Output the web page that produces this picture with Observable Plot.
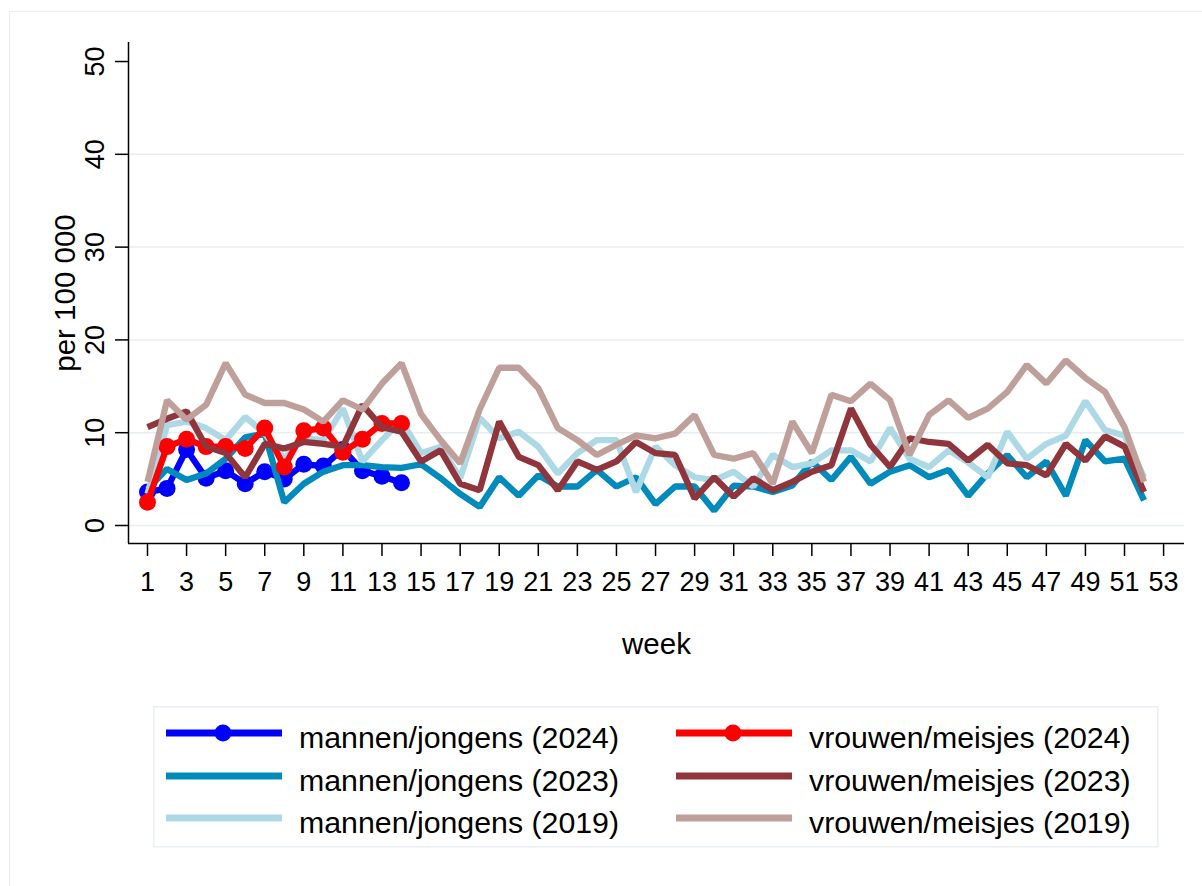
<!DOCTYPE html>
<html>
<head>
<meta charset="utf-8">
<script src="https://cdn.jsdelivr.net/npm/d3@7"></script>
<script src="https://cdn.jsdelivr.net/npm/@observablehq/plot@0.6"></script>
<style>
  html, body { margin: 0; padding: 0; background: #fff; }
  #wrap { position: relative; width: 1202px; height: 886px; overflow: hidden; background: #fff;
          font-family: "Liberation Sans", Arial, sans-serif; }
  #outer { position: absolute; left: 9px; top: 11px; width: 1400px; height: 1100px;
           border: 1.5px solid #E8EEF3; box-sizing: border-box; }
  #chart { position: absolute; left: 0; top: 0; }
  #legend { position: absolute; left: 153px; top: 706px; }
</style>
</head>
<body>
<div id="wrap">
  <div id="outer"></div>
  <div id="chart"></div>
  <svg id="legend" width="1006" height="142"></svg>
</div>
<script>
// ---- data ----
const weeks52 = d3.range(1, 53);
const weeks14 = d3.range(1, 15);
const xTicks = d3.range(1, 54, 2);
const yTicks = [0, 10, 20, 30, 40, 50];
const gridTicks = [0, 10, 20, 30, 40];

const men2024 = [3.6, 4.0, 8.2, 5.1, 5.9, 4.5, 5.8, 5.0, 6.6, 6.4, 8.2, 5.9, 5.3, 4.6];
const women2024 = [2.5, 8.5, 9.3, 8.5, 8.5, 8.3, 10.5, 6.3, 10.2, 10.5, 7.9, 9.3, 11.0, 11.0];

const men2023 = [3.9, 6.1, 4.9, 5.6, 7.2, 9.5, 9.9, 2.5, 4.5, 5.8, 6.5, 6.5, 6.3, 6.2,
  6.6, 5.1, 3.4, 2.0, 5.2, 3.2, 5.4, 4.2, 4.2, 6.0, 4.2, 5.2, 2.3, 4.2, 4.2, 1.6,
  4.3, 4.2, 3.6, 4.3, 6.9, 4.9, 7.4, 4.5, 5.8, 6.5, 5.2, 6.0, 3.2, 5.6, 7.6, 5.2,
  6.9, 3.2, 9.2, 6.9, 7.2, 2.7];
const women2023 = [10.6, 11.5, 12.3, 8.5, 7.8, 5.2, 8.8, 8.3, 9.0, 8.8, 8.5, 13.0, 10.6, 10.1,
  6.9, 8.1, 4.5, 3.8, 11.2, 7.4, 6.5, 3.8, 6.9, 6.0, 6.9, 9.0, 7.8, 7.6, 2.9, 5.2,
  3.1, 5.1, 3.8, 4.7, 5.8, 6.5, 12.6, 8.7, 6.3, 9.4, 9.0, 8.8, 7.0, 8.7, 6.7, 6.5,
  5.4, 8.8, 7.0, 9.6, 8.5, 3.6];
const men2019 = [3.4, 10.8, 11.2, 10.5, 9.2, 11.7, 9.9, 7.2, 9.4, 9.2, 12.6, 6.9, 9.2, 11.3,
  7.8, 8.5, 5.1, 11.6, 9.4, 10.1, 8.5, 5.6, 7.8, 9.2, 9.2, 3.6, 8.5, 6.5, 5.2, 4.9,
  5.8, 4.2, 7.6, 6.3, 6.7, 8.1, 8.1, 6.9, 10.5, 7.2, 6.3, 8.1, 6.8, 5.2, 10.1, 7.2,
  8.8, 9.7, 13.4, 10.3, 9.7, 5.2];
const women2019 = [4.7, 13.5, 11.4, 13.0, 17.5, 14.1, 13.2, 13.2, 12.5, 11.2, 13.5, 12.5, 15.3, 17.5,
  12.0, 9.2, 6.7, 12.5, 17.0, 17.0, 14.8, 10.5, 9.2, 7.6, 8.7, 9.7, 9.4, 9.9, 11.9, 7.6,
  7.2, 7.8, 4.5, 11.2, 7.8, 14.1, 13.4, 15.3, 13.5, 7.6, 11.9, 13.5, 11.6, 12.6, 14.4, 17.3,
  15.3, 17.8, 15.9, 14.4, 10.6, 4.7];

const seriesNames = ["mannen/jongens (2024)", "vrouwen/meisjes (2024)",
  "mannen/jongens (2023)", "vrouwen/meisjes (2023)",
  "mannen/jongens (2019)", "vrouwen/meisjes (2019)"];
const seriesColors = ["#0000FF", "#FF0000", "#008BBC", "#90353B", "#ADD8E6", "#BF9F99"];
const seriesValues = [men2024, women2024, men2023, women2023, men2019, women2019];
const seriesWeeks = [weeks14, weeks14, weeks52, weeks52, weeks52, weeks52];
const seriesDots = [true, true, false, false, false, false];
// drawing order (Stata plot order)
const drawOrder = [0, 2, 4, 1, 3, 5];

// ---- build tidy table ----
const rows = [];
seriesValues.forEach((vals, i) => {
  vals.forEach((v, j) => rows.push({series: seriesNames[i], idx: i, week: seriesWeeks[i][j], value: v}));
});

const W = 1202, H = 680, ML = 128, MR = 18, MT = 42, MB = 137;
const xDomain = [0.028, 54.07];
const yDomain = [-1.94, 52.05];
const pxPerX = (W - ML - MR) / (xDomain[1] - xDomain[0]);
const xAtPx = px => xDomain[0] + (px - ML) / pxPerX;
const font = "Liberation Sans, Arial, sans-serif";

const marks = [
  Plot.ruleY(gridTicks, {stroke: "#E6EEF2", strokeWidth: 1.5})
];
for (const i of drawOrder) {
  const data = rows.filter(d => d.idx === i);
  marks.push(Plot.line(data, {x: "week", y: "value", stroke: seriesColors[i], strokeWidth: 6.3,
    strokeLinejoin: "miter", strokeLinecap: "butt"}));
  if (seriesDots[i]) {
    marks.push(Plot.dot(data, {x: "week", y: "value", r: 8.5, fill: seriesColors[i], stroke: "none"}));
  }
}
marks.push(
  Plot.ruleX([xDomain[0]], {stroke: "#000", strokeWidth: 1.5}),
  Plot.ruleY([yDomain[0]], {stroke: "#000", strokeWidth: 1.5}),
  Plot.axisX({ticks: xTicks, tickSize: 13, tickPadding: 15, fontSize: 27, label: null,
    strokeWidth: 1.5, fill: "#000", stroke: "#000"}),
  Plot.axisY({ticks: yTicks, tickSize: 13, tickFormat: () => "", label: null,
    strokeWidth: 1.5, stroke: "#000"}),
  Plot.text(yTicks, {y: d => d, x: () => xAtPx(103), text: d => String(d), rotate: -90,
    lineAnchor: "bottom", textAnchor: "middle", fontSize: 27, fill: "#000"}),
  Plot.text(["per 100 000"], {x: () => xAtPx(74), y: () => (yDomain[0] + yDomain[1]) / 2,
    rotate: -90, lineAnchor: "bottom", textAnchor: "middle", fontSize: 29.5, fill: "#000"}),
  Plot.text(["week"], {frameAnchor: "bottom", dy: 110, lineAnchor: "bottom",
    textAnchor: "middle", fontSize: 29.5, fill: "#000"})
);

const chart = Plot.plot({
  width: W,
  height: H,
  marginLeft: ML,
  marginRight: MR,
  marginTop: MT,
  marginBottom: MB,
  x: {type: "linear", domain: xDomain},
  y: {type: "linear", domain: yDomain},
  style: {fontFamily: font, background: "transparent", color: "#000", overflow: "visible"},
  marks
});
document.getElementById("chart").appendChild(chart);

// ---- legend ----
const leg = d3.select("#legend");
leg.append("rect").attr("x", 0.75).attr("y", 0.75).attr("width", 1004).attr("height", 140)
  .attr("fill", "#fff").attr("stroke", "#E8EEF3").attr("stroke-width", 1.5);
const rowY = [27, 70, 112];
const colX = [13, 523];
seriesNames.forEach((name, i) => {
  const c = i % 2, r = Math.floor(i / 2);
  const x0 = colX[c], y0 = rowY[r];
  leg.append("line").attr("x1", x0).attr("x2", x0 + 116).attr("y1", y0).attr("y2", y0)
    .attr("stroke", seriesColors[i]).attr("stroke-width", 7);
  if (seriesDots[i]) {
    leg.append("circle").attr("cx", x0 + 57).attr("cy", y0).attr("r", 8.5).attr("fill", seriesColors[i]);
  }
  leg.append("text").attr("x", x0 + 133).attr("y", y0 + 15).text(name)
    .attr("font-family", font).attr("font-size", 30.3).attr("fill", "#000");
});
</script>
</body>
</html>
